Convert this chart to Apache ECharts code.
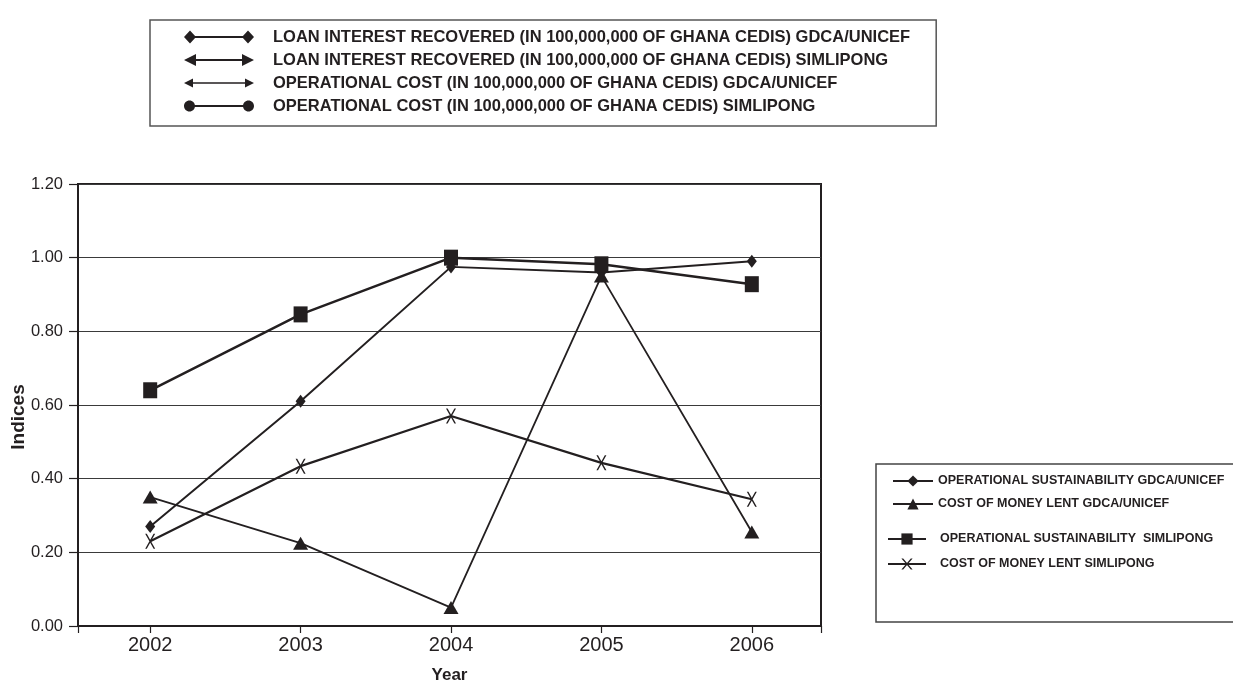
<!DOCTYPE html>
<html>
<head>
<meta charset="utf-8">
<title>Operational sustainability and cost of money lent, 2002-2006</title>
<script src="https://cdn.jsdelivr.net/npm/echarts@6/dist/echarts.min.js"></script>
<style>
  html, body { margin: 0; padding: 0; background: #fff; }
  #chart { width: 1233px; height: 684px; }
</style>
</head>
<body>
<div id="chart"></div>
<script>
// Years on the horizontal axis
const years = [2002, 2003, 2004, 2005, 2006];

// Index values per year
const opSustGdca = [0.27, 0.61, 0.975, 0.96, 0.99];
const costGdca   = [0.35, 0.225, 0.05, 0.95, 0.255];
const opSustSim  = [0.64, 0.846, 1.00, 0.982, 0.928];
const costSim    = [0.23, 0.434, 0.57, 0.443, 0.344];

// Vertical axis ticks
const yTicks = [0, 0.2, 0.4, 0.6, 0.8, 1.0, 1.2];

// Series names
const names = {
  loanGdca: 'LOAN INTEREST RECOVERED (IN 100,000,000 OF GHANA CEDIS) GDCA/UNICEF',
  loanSim: 'LOAN INTEREST RECOVERED (IN 100,000,000 OF GHANA CEDIS) SIMLIPONG',
  costOpGdca: 'OPERATIONAL COST (IN 100,000,000 OF GHANA CEDIS) GDCA/UNICEF',
  costOpSim: 'OPERATIONAL COST (IN 100,000,000 OF GHANA CEDIS) SIMLIPONG',
  opSustGdca: 'OPERATIONAL SUSTAINABILITY GDCA/UNICEF',
  costGdca: 'COST OF MONEY LENT GDCA/UNICEF',
  opSustSim: 'OPERATIONAL SUSTAINABILITY  SIMLIPONG',
  costSim: 'COST OF MONEY LENT SIMLIPONG'
};

const INK = '#231f20';
const FONT = '"Liberation Sans", Arial, sans-serif';
const xMin = 2001.52, xMax = 2006.46;

const pairs = arr => years.map((y, i) => [y, arr[i]]);

// Legend icons: a bar with end markers
const iconDiamonds = 'path://M0,6.5L6,0L12,6.5L6,13ZM58,6.5L64,0L70,6.5L64,13ZM6,5.5L64,5.5L64,7.5L6,7.5Z';
const iconArrows = 'path://M0,6.5L12,0.5L12,12.5ZM70,6.5L58,0.5L58,12.5ZM12,5.5L58,5.5L58,7.5L12,7.5Z';
const iconSmallArrows = 'path://M0,6.5L9,2L9,11ZM70,6.5L61,2L61,11ZM9,5.8L61,5.8L61,7.2L9,7.2Z';
// dots drawn with cubic curves
const iconDots = 'path://' +
  'M0,6.5C0,3.46 2.46,1 5.5,1C8.54,1 11,3.46 11,6.5C11,9.54 8.54,12 5.5,12C2.46,12 0,9.54 0,6.5Z' +
  'M59,6.5C59,3.46 61.46,1 64.5,1C67.54,1 70,3.46 70,6.5C70,9.54 67.54,12 64.5,12C61.46,12 59,9.54 59,6.5Z' +
  'M10.5,5.5L59.5,5.5L59.5,7.5L10.5,7.5Z';

// Cross marker
const crossSymbol = 'path://M0,0L1.6,0L10,14L8.4,14ZM8.4,0L10,0L1.6,14L0,14Z';

const emptySeries = name => ({
  name, type: 'line', data: [], color: INK, lineStyle: { color: INK }
});

const chart = echarts.init(document.getElementById('chart'), null, { renderer: 'canvas' });

chart.setOption({
  animation: false,
  backgroundColor: '#fff',
  textStyle: { fontFamily: FONT, color: INK },
  grid: {
    left: 78, right: 412, top: 184, bottom: 58,
    outerBoundsMode: 'none',
    containLabel: false,
    show: true, borderColor: INK, borderWidth: 2, backgroundColor: 'transparent'
  },
  legend: [
    {
      orient: 'vertical',
      left: 150, top: 20,
      padding: [8.5, 26, 11.5, 34],
      borderColor: '#555', borderWidth: 1.5,
      itemWidth: 70, itemHeight: 13, itemGap: 6,
      selectedMode: false,
      itemStyle: { borderWidth: 0 },
      textStyle: { fontFamily: FONT, fontSize: 16.5, fontWeight: 'bold', color: INK, lineHeight: 16, padding: [0, 0, 0, 14] },
      data: [
        { name: names.loanGdca, icon: iconDiamonds },
        { name: names.loanSim, icon: iconArrows },
        { name: names.costOpGdca, icon: iconSmallArrows },
        { name: names.costOpSim, icon: iconDots }
      ]
    },
    {
      orient: 'vertical',
      left: 892, top: 474,
      padding: 0,
      itemWidth: 40, itemHeight: 14, itemGap: 9,
      selectedMode: false,
      textStyle: { fontFamily: FONT, fontSize: 12.5, fontWeight: 'bold', color: INK, lineHeight: 14 },
      data: [names.opSustGdca, names.costGdca]
    },
    {
      orient: 'vertical',
      left: 887, top: 532,
      padding: 0,
      itemWidth: 38, itemHeight: 14, itemGap: 11,
      selectedMode: false,
      textStyle: { fontFamily: FONT, fontSize: 12.5, fontWeight: 'bold', color: INK, lineHeight: 14, padding: [0, 0, 0, 9] },
      data: [names.opSustSim, names.costSim]
    }
  ],
  graphic: [
    {
      type: 'rect',
      shape: { x: 876, y: 464, width: 420, height: 158 },
      style: { fill: 'none', stroke: '#444', lineWidth: 1.5 },
      silent: true
    }
  ],
  xAxis: {
    type: 'value',
    min: xMin, max: xMax,
    name: 'Year',
    nameLocation: 'middle',
    nameGap: 41,
    nameMoveOverlap: false,
    nameTextStyle: { fontFamily: FONT, fontSize: 17, fontWeight: 'bold', color: INK },
    axisLine: { show: true, onZero: false, lineStyle: { color: INK, width: 2 } },
    axisTick: { show: true, length: 7, lineStyle: { color: INK, width: 1.2 }, customValues: [xMin].concat(years, [xMax]) },
    axisLabel: { customValues: years, formatter: v => String(Math.round(v)), fontFamily: FONT, fontSize: 20, color: INK, margin: 9 },
    splitLine: { show: false }
  },
  yAxis: {
    type: 'value',
    min: 0, max: 1.2, interval: 0.2,
    name: 'Indices',
    nameLocation: 'middle',
    nameRotate: 90,
    nameGap: 50,
    nameMoveOverlap: false,
    nameTextStyle: { fontFamily: FONT, fontSize: 19, fontWeight: 'bold', color: INK, padding: [0, 24, 0, 0] },
    axisLine: { show: true, lineStyle: { color: INK, width: 2 } },
    axisTick: { show: true, length: 9, lineStyle: { color: INK, width: 1.2 } },
    axisLabel: {
      customValues: yTicks,
      formatter: v => v.toFixed(2),
      fontFamily: FONT, fontSize: 16.5, color: INK, margin: 15
    },
    splitLine: { show: true, lineStyle: { color: '#3a3a3a', width: 1.2 } }
  },
  series: [
    emptySeries(names.loanGdca),
    emptySeries(names.loanSim),
    emptySeries(names.costOpGdca),
    emptySeries(names.costOpSim),
    {
      name: names.opSustGdca, type: 'line',
      data: pairs(opSustGdca),
      symbol: 'diamond', symbolSize: [10, 13],
      color: INK,
      lineStyle: { color: INK, width: 2 },
      itemStyle: { color: INK, borderWidth: 0 }
    },
    {
      name: names.costGdca, type: 'line',
      data: pairs(costGdca),
      symbol: 'triangle', symbolSize: [15, 13],
      color: INK,
      lineStyle: { color: INK, width: 1.8 },
      itemStyle: { color: INK, borderWidth: 0 }
    },
    {
      name: names.opSustSim, type: 'line',
      data: pairs(opSustSim),
      symbol: 'rect', symbolSize: [14, 16],
      color: INK,
      lineStyle: { color: INK, width: 2.5 },
      itemStyle: { color: INK, borderWidth: 0 }
    },
    {
      name: names.costSim, type: 'line',
      data: pairs(costSim),
      symbol: crossSymbol, symbolSize: [10, 15],
      color: INK,
      lineStyle: { color: INK, width: 2.2 },
      itemStyle: { color: INK, borderWidth: 0 }
    }
  ]
});
</script>
</body>
</html>
